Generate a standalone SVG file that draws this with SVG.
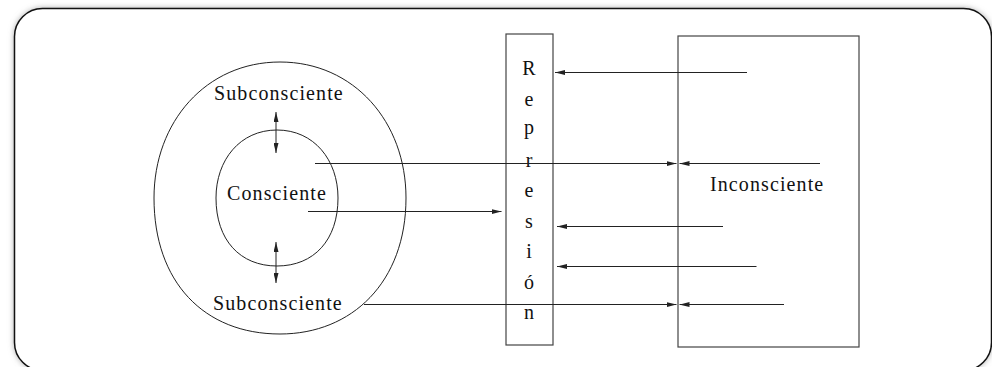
<svg xmlns="http://www.w3.org/2000/svg" width="992" height="367" viewBox="0 0 992 367">
<defs>
<filter id="glow" x="-5%" y="-10%" width="110%" height="120%">
<feGaussianBlur stdDeviation="3"/>
</filter>
<marker id="ah" viewBox="0 0 10 5" refX="10" refY="2.5" markerWidth="10" markerHeight="5" markerUnits="userSpaceOnUse" orient="auto-start-reverse">
<path d="M0,0 L10,2.5 L0,5 z" fill="#222"/>
</marker>
</defs>
<style>
text{font-family:'Liberation Serif','Times New Roman',serif;font-size:20px;fill:#111}
.lbl{letter-spacing:1.1px}
.ltr{text-anchor:middle}
.shape{fill:none;stroke:#222;stroke-width:1}
.box{fill:none;stroke:#444;stroke-width:1.2}
.con{fill:none;stroke:#222;stroke-width:1}
</style>
<rect x="0" y="0" width="992" height="367" fill="#fff"/>
<rect x="14.5" y="8.5" width="977" height="362" rx="28" fill="#999" filter="url(#glow)"/>
<rect x="14.5" y="8.5" width="977" height="362" rx="28" fill="#fff" stroke="#111" stroke-width="1.5"/>

<g id="subconsciente">
<path class="shape" d="M280,62 C354,62 406,122 406,198 C406,282 352,334 280,334 C204,334 154,282 154,198 C154,122 206,62 280,62 Z"/>
<text class="lbl" x="214" y="100">Subconsciente</text>
<text class="lbl" x="213" y="310">Subconsciente</text>
</g>
<g id="consciente">
<path class="shape" d="M277,130 C314,130 338,160 338,198 C338,240 314,266 277,266 C240,266 216,240 216,198 C216,160 240,130 277,130 Z"/>
<text class="lbl" x="227" y="200">Consciente</text>
</g>
<g id="represion">
<rect class="box" x="506" y="34" width="47" height="311"/>
<text class="ltr" x="529" y="75">R</text>
<text class="ltr" x="529" y="105.5">e</text>
<text class="ltr" x="529" y="134">p</text>
<text class="ltr" x="529" y="166.5">r</text>
<text class="ltr" x="529" y="197">e</text>
<text class="ltr" x="529" y="227.5">s</text>
<text class="ltr" x="529" y="258">i</text>
<text class="ltr" x="529" y="288.5">ó</text>
<text class="ltr" x="529" y="319">n</text>
</g>
<g id="inconsciente">
<rect class="box" x="678" y="36" width="181" height="311"/>
<text class="lbl" x="710" y="191" letter-spacing="1.35">Inconsciente</text>
</g>

<g id="connectors">
<line class="con" x1="276" y1="112" x2="276" y2="153" marker-start="url(#ah)" marker-end="url(#ah)"/>
<line class="con" x1="276" y1="242" x2="276" y2="283" marker-start="url(#ah)" marker-end="url(#ah)"/>
<line class="con" x1="747" y1="72.5" x2="555" y2="72.5" marker-end="url(#ah)"/>
<line class="con" x1="315" y1="163.5" x2="676.5" y2="163.5" marker-end="url(#ah)"/>
<line class="con" x1="820" y1="163.5" x2="679.5" y2="163.5" marker-end="url(#ah)"/>
<line class="con" x1="308" y1="211.5" x2="501.5" y2="211.5" marker-end="url(#ah)"/>
<line class="con" x1="723" y1="226.5" x2="557" y2="226.5" marker-end="url(#ah)"/>
<line class="con" x1="756.5" y1="266.5" x2="557" y2="266.5" marker-end="url(#ah)"/>
<line class="con" x1="364" y1="304.5" x2="676.5" y2="304.5" marker-end="url(#ah)"/>
<line class="con" x1="784" y1="304.5" x2="679.5" y2="304.5" marker-end="url(#ah)"/>
</g>
</svg>
